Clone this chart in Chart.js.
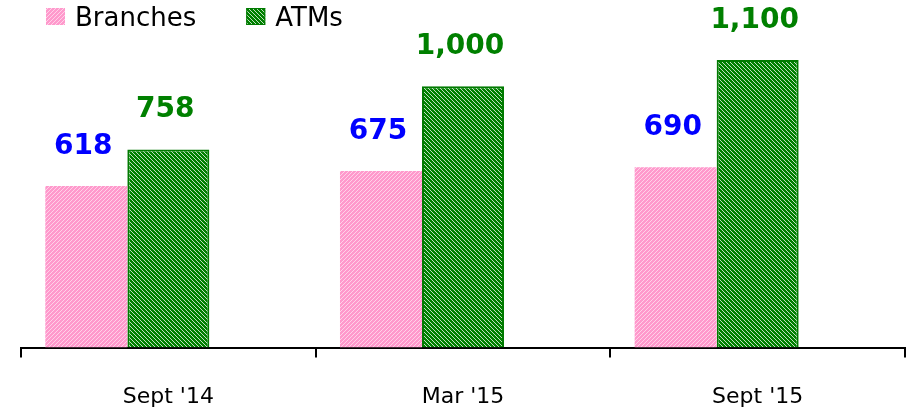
<!DOCTYPE html>
<html>
<head>
<meta charset="utf-8">
<script src="https://cdn.jsdelivr.net/npm/chart.js@4.4.0/dist/chart.umd.min.js"></script>
<style>
  html, body { margin: 0; padding: 0; background: #fff; }
  #wrap { width: 910px; height: 418px; }
</style>
</head>
<body>
<div id="wrap"><canvas id="chart"></canvas></div>
<script>
// data
const categories = ["Sept '14", "Mar '15", "Sept '15"];
const branches = [618, 675, 690];
const atms = [758, 1000, 1100];
const seriesNames = ['Branches', 'ATMs'];
const labelColors = ['#0000ff', '#008000'];

// hatched fills, "/" for branches and "\" for ATMs
function stripes(base, line, size, dir) {
  const c = document.createElement('canvas');
  c.width = size;
  c.height = size;
  const g = c.getContext('2d');
  g.fillStyle = base;
  g.fillRect(0, 0, size, size);
  g.strokeStyle = line;
  g.lineWidth = 1;
  g.beginPath();
  if (dir > 0) {
    g.moveTo(-1, size + 1); g.lineTo(size + 1, -1);
    g.moveTo(-1, 1); g.lineTo(1, -1);
    g.moveTo(size - 1, size + 1); g.lineTo(size + 1, size - 1);
  } else {
    g.moveTo(-1, -1); g.lineTo(size + 1, size + 1);
    g.moveTo(size - 1, -1); g.lineTo(size + 1, 1);
    g.moveTo(-1, size - 1); g.lineTo(1, size + 1);
  }
  g.stroke();
  return g.createPattern(c, 'repeat');
}

const pinkFill = stripes('#ff99cc', 'rgba(255,255,255,0.55)', 4, 1);
const greenFill = stripes('#008000', 'rgba(255,255,255,0.75)', 4, -1);

// numbers above the bars
const valueLabels = {
  id: 'valueLabels',
  afterDatasetsDraw(chart) {
    const ctx = chart.ctx;
    ctx.save();
    ctx.font = 'bold 28px "DejaVu Sans"';
    ctx.textAlign = 'center';
    ctx.textBaseline = 'alphabetic';
    [0, 1].forEach(di => {
      const meta = chart.getDatasetMeta(di);
      ctx.fillStyle = labelColors[di];
      meta.data.forEach((bar, i) => {
        const v = chart.data.datasets[di].data[i];
        ctx.fillText(v.toLocaleString('en-US'), bar.x - 3, bar.y - 32);
      });
    });
    ctx.restore();
  }
};

// legend sits top-left
const topLegend = {
  id: 'topLegend',
  afterDraw(chart) {
    const ctx = chart.ctx;
    ctx.save();
    ctx.font = '26px "DejaVu Sans"';
    ctx.textBaseline = 'alphabetic';
    let x = 46;
    chart.data.datasets.slice(0, 2).forEach(ds => {
      ctx.fillStyle = ds.backgroundColor;
      ctx.fillRect(x, 8, 19, 17);
      if (ds.borderWidth) {
        ctx.strokeStyle = ds.borderColor;
        ctx.lineWidth = 1;
        ctx.strokeRect(x + 0.5, 8.5, 18, 16);
      }
      ctx.fillStyle = '#000';
      ctx.fillText(ds.label, x + 29, 26);
      x += 29 + ctx.measureText(ds.label).width + 50;
    });
    ctx.restore();
  }
};

const chart = new Chart(document.getElementById('chart'), {
  type: 'bar',
  data: {
    labels: categories,
    datasets: [
      { label: seriesNames[0], data: branches, backgroundColor: pinkFill, borderWidth: 0 },
      { label: seriesNames[1], data: atms, backgroundColor: greenFill, borderColor: '#007a00', borderWidth: 2 },
      // empty slot so the pair sits left of the category centre
      { label: '', data: [null, null, null] }
    ]
  },
  options: {
    responsive: true,
    maintainAspectRatio: false,
    animation: false,
    layout: { padding: { left: 21, right: 5, top: 60, bottom: -18 } },
    datasets: { bar: { categoryPercentage: 0.835, barPercentage: 1 } },
    plugins: { legend: { display: false }, tooltip: { enabled: false } },
    scales: {
      x: {
        grid: { offset: true, drawOnChartArea: false, color: '#000', lineWidth: 2, tickLength: 10 },
        border: { color: '#000', width: 2 },
        ticks: { color: '#000', font: { family: 'DejaVu Sans', size: 22 }, padding: 26 }
      },
      y: { display: false, min: 0, max: 1100 }
    }
  },
  plugins: [valueLabels, topLegend]
});
</script>
</body>
</html>
